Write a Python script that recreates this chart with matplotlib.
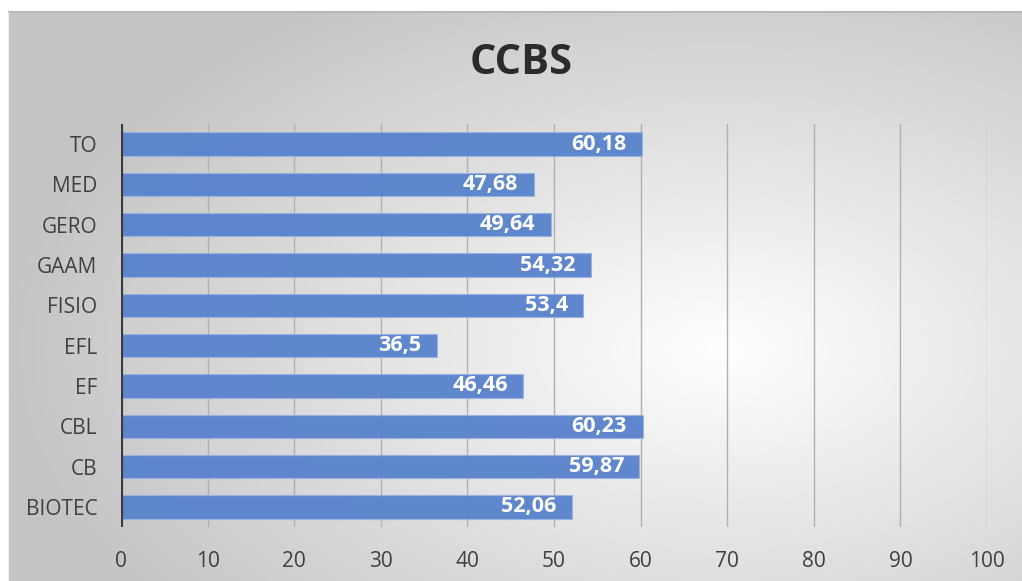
import numpy as np
import matplotlib
matplotlib.use("Agg")
import matplotlib.pyplot as plt

categories = ["BIOTEC", "CB", "CBL", "EF", "EFL", "FISIO", "GAAM", "GERO", "MED", "TO"]
values = [52.06, 59.87, 60.23, 46.46, 36.5, 53.4, 54.32, 49.64, 47.68, 60.18]
labels = ["52,06", "59,87", "60,23", "46,46", "36,5", "53,4", "54,32", "49,64", "47,68", "60,18"]
xticks = [0, 10, 20, 30, 40, 50, 60, 70, 80, 90, 100]
title = "CCBS"

plt.rcParams['font.family'] = ['Open Sans', 'DejaVu Sans']

W, H = 1022, 581
fig = plt.figure(figsize=(W / 100, H / 100), dpi=100)
fig.patch.set_facecolor('white')

# background gradient panel
x0, y0 = 9, 12
bg = fig.add_axes([x0 / W, 0, (W - x0) / W, (H - y0) / H], zorder=0)
nx, ny = 400, 240
xs = np.linspace(x0, W, nx)
ys = np.linspace(y0, H, ny)
X, Y = np.meshgrid(xs, ys)
cx, cy, rx, ry = 720, 350, 720, 420
t = np.sqrt(((X - cx) / rx) ** 2 + ((Y - cy) / ry) ** 2)
g = 1 - 0.23 * np.clip(t, 0, 1)
img = np.dstack([g, g, g])
bg.imshow(img, aspect='auto', extent=[0, 1, 0, 1], origin='upper')
bg.set_xlim(0, 1)
bg.set_ylim(0, 1)
bg.axis('off')
fig.add_artist(plt.Line2D([x0 / W, 1], [1 - y0 / H, 1 - y0 / H], color='#b8b8b8', lw=1.5, transform=fig.transFigure, zorder=1))
fig.add_artist(plt.Line2D([x0 / W, x0 / W], [0, 1 - y0 / H], color='#c4c4c4', lw=1.0, transform=fig.transFigure, zorder=1))

left, right = 121 / W, 987 / W
top, bottom = 1 - 124 / H, 1 - 527 / H
ax = fig.add_axes([left, bottom, right - left, top - bottom], zorder=2)
ax.patch.set_alpha(0)

ypos = np.arange(len(categories))
ax.barh(ypos, values, height=0.58, color='#5b84cc', edgecolor='#9ab2e0', linewidth=0.8, zorder=3, alpha=0.97)
for yv, v, lab in zip(ypos, values, labels):
    ax.text(v - 1.8, yv, lab, ha='right', va='center', color='white', fontsize=15.5, fontweight='bold', zorder=4)

ax.set_xlim(0, 100)
ax.set_ylim(-0.5, len(categories) - 0.5)
ax.set_xticks(xticks)
ax.set_xticklabels([str(v) for v in xticks])
ax.set_yticks(ypos)
ax.set_yticklabels(categories)
for x in xticks[1:]:
    ax.axvline(x, color='#b0b0b0', lw=1.0, zorder=1)
ax.axvline(0, color='#3a3a3a', lw=3, zorder=5)
for s in ax.spines.values():
    s.set_visible(False)
ax.tick_params(axis='both', length=0, labelsize=15, colors='#404040')
ax.tick_params(axis='x', pad=17)
ax.tick_params(axis='y', pad=17)

fig.text(521 / W, 1 - 64 / H, title, ha='center', va='center', fontsize=30, fontweight='bold', color='#2b2b2b')

fig.savefig('out.png', dpi=100)
